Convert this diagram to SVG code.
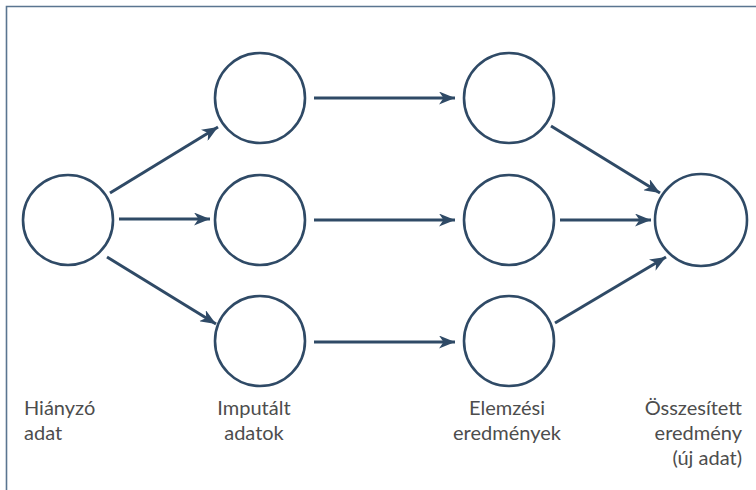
<svg xmlns="http://www.w3.org/2000/svg" width="756" height="490" viewBox="0 0 756 490">
<style>
.node{fill:none;stroke:#2f4a66;stroke-width:2.6}
.edge{stroke:#2f4a66;stroke-width:3;fill:none;marker-end:url(#ah)}
.lbl{font-family:"Lato","Liberation Sans",sans-serif;font-size:20px;fill:#4d4d4d}
.frame{stroke:#5a7590;stroke-width:1.6;fill:none}
</style>
<defs>
<marker id="ah" markerUnits="userSpaceOnUse" markerWidth="17" markerHeight="13" refX="16" refY="6.5" orient="auto">
<path d="M0,0 L16,6.5 L0,13 L4.5,6.5 z" fill="#2f4a66"/>
</marker>
</defs>
<rect width="756" height="490" fill="#ffffff"/>
<path class="frame" d="M6.5,490 V6.5 H756"/>
<g id="connectors">
<line class="edge" x1="110" y1="193" x2="218" y2="127"/>
<line class="edge" x1="119" y1="219" x2="210" y2="219"/>
<line class="edge" x1="107" y1="257" x2="216" y2="324"/>
<line class="edge" x1="314" y1="98" x2="455" y2="98"/>
<line class="edge" x1="314" y1="220" x2="455" y2="220"/>
<line class="edge" x1="314" y1="342" x2="455" y2="342"/>
<line class="edge" x1="551" y1="126" x2="660" y2="193"/>
<line class="edge" x1="560" y1="220" x2="651" y2="220"/>
<line class="edge" x1="555" y1="323" x2="666" y2="257"/>
</g>
<g id="n-hianyzo"><circle class="node" cx="68" cy="220" r="45"/><text class="lbl" x="24" y="415">Hiányzó</text><text class="lbl" x="24" y="440">adat</text></g>
<g id="n-imp1"><circle class="node" cx="260" cy="98" r="45"/></g>
<g id="n-imp2"><circle class="node" cx="260" cy="220" r="45"/></g>
<g id="n-imp3"><circle class="node" cx="260" cy="341" r="45"/><text class="lbl" x="254" y="415" text-anchor="middle">Imputált</text><text class="lbl" x="254" y="440" text-anchor="middle">adatok</text></g>
<g id="n-elem1"><circle class="node" cx="509" cy="98" r="45"/></g>
<g id="n-elem2"><circle class="node" cx="509" cy="220" r="45"/></g>
<g id="n-elem3"><circle class="node" cx="509" cy="341" r="45"/><text class="lbl" x="507" y="415" text-anchor="middle">Elemzési</text><text class="lbl" x="507" y="440" text-anchor="middle">eredmények</text></g>
<g id="n-ossz"><circle class="node" cx="701" cy="220" r="46"/><text class="lbl" x="742" y="415" text-anchor="end">Összesített</text><text class="lbl" x="742" y="440" text-anchor="end">eredmény</text><text class="lbl" x="742" y="465" text-anchor="end">(új adat)</text></g>
</svg>
